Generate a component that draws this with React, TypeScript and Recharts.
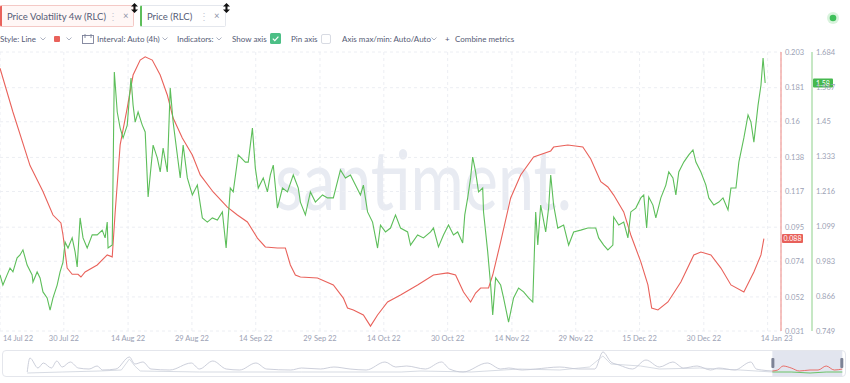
import React from 'react';
import { LineChart, Line, XAxis, YAxis, CartesianGrid, ReferenceLine, ReferenceArea } from 'recharts';

const RED = '#e9625b';
const GREEN = '#5dbe5a';
const FONT = 'Lato, "Open Sans", sans-serif';
const TEXT = '#555b75';
const AXIS_TEXT = '#9ba1b4';
// axis ids: the first one sits next to the plot
const VOL_AXIS = 'axis1Vol';
const PRICE_AXIS = 'axis2Price';

// x axis: days since 14 Jul 22
const xTickDays = [0, 15.3, 30.7, 46, 61.3, 76.7, 92, 107.3, 122.7, 138, 153.3, 168.7, 184];
const xTickLabels = ['14 Jul 22', '30 Jul 22', '14 Aug 22', '29 Aug 22', '14 Sep 22', '29 Sep 22', '14 Oct 22', '30 Oct 22', '14 Nov 22', '29 Nov 22', '15 Dec 22', '30 Dec 22', '14 Jan 23'];

const volTicks = [0.031, 0.052, 0.074, 0.095, 0.117, 0.138, 0.16, 0.181, 0.203];
const priceTicks = [0.749, 0.866, 0.983, 1.099, 1.216, 1.333, 1.45, 1.567, 1.684];

// Price Volatility 4w (RLC)
const volDays = [
  0, 3.1, 7.2, 10.3, 12.7, 14.6, 15.1, 16.1, 17.3, 18.7,
  19.4, 20.4, 23.3, 25.7, 26.9, 27.6, 28.8, 30.5, 31.9, 33.6,
  34.8, 36.5, 38.4, 40.1, 41.5, 43.7, 46.1, 48, 51.1, 54.5,
  56.9, 59.3, 61.7, 63.6, 66.5, 68.4, 69.6, 70.8, 72, 76.1,
  79.9, 82.3, 83.3, 84.7, 87.1, 88.8, 90.5, 92.9, 96, 100.1,
  103.9, 107.3, 109.2, 111.1, 112.8, 114, 115.2, 117.1, 118.1, 120,
  122.4, 124.8, 127.9, 132, 132.7, 136.1, 139.7, 141.6, 144, 145.7,
  147.1, 149.5, 151.2, 153.6, 155.3, 156.2, 157.7, 160.1, 163.2, 166.3,
  168, 170.4, 172.8, 175.2, 178.3, 180.7, 182.4, 183.1,
];
const volValues = [
  0.193, 0.166, 0.133, 0.117, 0.1025, 0.0976, 0.0902, 0.0698, 0.066, 0.066,
  0.0643, 0.0674, 0.0717, 0.0779, 0.0767, 0.104, 0.1457, 0.1685, 0.1888, 0.198,
  0.2, 0.198, 0.1888, 0.1765, 0.1623, 0.15, 0.1395, 0.1272, 0.1167, 0.1074,
  0.1025, 0.0982, 0.0883, 0.0828, 0.0822, 0.0822, 0.0717, 0.0655, 0.0643, 0.0637,
  0.0594, 0.0513, 0.0452, 0.044, 0.0409, 0.034, 0.0409, 0.0489, 0.0532, 0.0594,
  0.0655, 0.0668, 0.0655, 0.055, 0.0489, 0.0544, 0.0575, 0.0575, 0.0655, 0.0859,
  0.113, 0.1272, 0.1383, 0.142, 0.1444, 0.1457, 0.1445, 0.137, 0.123, 0.1198,
  0.1148, 0.1044, 0.0902, 0.0736, 0.0594, 0.0452, 0.044, 0.0489, 0.0612, 0.0779,
  0.0797, 0.0779, 0.0698, 0.0594, 0.055, 0.0674, 0.0779, 0.088,
];

// Price (RLC)
const priceDays = [
  0, 0.7, 1.7, 2.4, 3.1, 4.1, 4.8, 5.5, 6.5, 7.7,
  7.9, 8.9, 9.6, 10.3, 11.3, 12, 12.7, 13.7, 14.4, 15.1,
  15.6, 16.3, 17.3, 18, 18.5, 19.2, 19.9, 20.9, 22.1, 23.3,
  24.5, 25.2, 25.7, 25.9, 26.9, 27.4, 28.1, 28.8, 29.5, 30.5,
  31, 31.4, 31.9, 32.4, 33.1, 34.1, 34.8, 35.5, 36.7, 37.7,
  38.4, 39.1, 40.1, 40.8, 41.5, 42.5, 43.2, 43.9, 44.9, 46.1,
  47.3, 48.5, 49.7, 50.9, 52.1, 53.3, 54.2, 55.2, 55.9, 57.1,
  58.8, 59.5, 60.5, 61.2, 61.9, 63.1, 64.1, 64.8, 65.5, 66.5,
  67.7, 68.9, 70.3, 71.5, 72, 73.2, 74.4, 75.6, 77.3, 78.5,
  79.9, 81.6, 82.8, 84, 85.2, 86.4, 87.1, 88.1, 89.3, 90.5,
  91.2, 92.4, 93.6, 94.8, 96, 97.7, 98.4, 100.1, 101.5, 103.2,
  103.9, 105.1, 106.3, 107.5, 108.7, 109.7, 110.9, 111.4, 112.1, 112.8,
  113.3, 114, 114.7, 115.7, 115.9, 116.9, 117.6, 118.1, 118.8, 120,
  120.7, 121.9, 123.1, 124.3, 125.5, 126.7, 127.7, 128.4, 128.9, 129.6,
  130.8, 131.5, 132, 132.7, 133.7, 135.1, 136.3, 137.5, 139.2, 140.9,
  142.8, 143.5, 144.7, 145.7, 146.9, 147.1, 148.3, 149.5, 150.5, 151.2,
  152.4, 153.6, 154.3, 155, 155.5, 156.5, 157.2, 158.4, 159.6, 160.3,
  161.3, 162, 162.7, 163.9, 165.1, 166.1, 166.8, 168, 169.2, 169.9,
  171.1, 172.3, 173.3, 174.5, 175.2, 176.4, 177.1, 178.3, 179.3, 180,
  180.7, 181.7, 182.4, 182.9, 183.4,
];
const priceValues = [
  0.937, 0.903, 0.937, 0.96, 0.947, 0.994, 1.004, 1.021, 0.97, 0.937,
  0.913, 0.947, 0.927, 0.88, 0.86, 0.819, 0.86, 0.903, 0.947, 0.98,
  1.047, 1.027, 1.061, 1.014, 0.964, 1.128, 1.061, 1.027, 1.071, 1.071,
  1.087, 1.061, 1.114, 1.027, 1.037, 1.617, 1.483, 1.429, 1.396, 1.439,
  1.53, 1.597, 1.506, 1.449, 1.483, 1.439, 1.416, 1.198, 1.372, 1.329,
  1.282, 1.362, 1.282, 1.563, 1.449, 1.339, 1.262, 1.372, 1.262, 1.205,
  1.238, 1.128, 1.114, 1.128, 1.121, 1.148, 1.027, 1.228, 1.215, 1.339,
  1.315, 1.315, 1.429, 1.295, 1.228, 1.262, 1.215, 1.272, 1.305, 1.161,
  1.228, 1.215, 1.272, 1.228, 1.181, 1.138, 1.215, 1.181, 1.205, 1.195,
  1.195, 1.289, 1.262, 1.272, 1.238, 1.205, 1.238, 1.148, 1.114, 1.027,
  1.104, 1.081, 1.094, 1.138, 1.094, 1.081, 1.037, 1.071, 1.061, 1.081,
  1.094, 1.031, 1.071, 1.104, 1.071, 1.081, 1.044, 1.138, 1.195, 1.262,
  1.332, 1.282, 1.215, 1.228, 1.148, 1.014, 0.903, 0.803, 0.927, 0.903,
  0.86, 0.779, 0.86, 0.893, 0.88, 0.86, 0.846, 1.148, 1.037, 1.171,
  1.081, 1.161, 1.272, 1.171, 1.094, 1.104, 1.037, 1.081, 1.087, 1.094,
  1.094, 1.061, 1.037, 1.021, 1.037, 1.131, 1.104, 1.114, 1.061, 1.148,
  1.161, 1.195, 1.205, 1.094, 1.198, 1.171, 1.128, 1.195, 1.238, 1.282,
  1.262, 1.205, 1.282, 1.315, 1.339, 1.356, 1.315, 1.282, 1.238, 1.195,
  1.171, 1.181, 1.195, 1.155, 1.228, 1.228, 1.315, 1.396, 1.473, 1.449,
  1.382, 1.506, 1.573, 1.664, 1.58,
];

// navigator (weeks of full history, relative height)
const navVolWeeks = [9, 10, 13, 15, 18, 20, 22, 25, 28, 32, 35, 37, 42, 47, 49, 52, 55, 62, 70, 73, 78, 83, 88, 94, 98, 107, 111, 118, 123, 129, 135, 142, 146, 150, 157, 163, 166, 171, 180, 185, 188, 193, 198, 207, 214, 220, 223, 226, 229, 234, 239, 244, 249, 253, 258, 263, 266, 272, 278, 280, 282, 286];
const navVolValues = [4, 18, 8, 13, 8, 15, 9, 14, 8, 7, 10, 6, 7, 19, 12, 14, 7, 6, 13, 7, 15, 7, 6, 13, 7, 6, 8, 7, 9, 7, 6, 14, 9, 10, 7, 14, 7, 4, 13, 7, 8, 6, 7, 9, 7, 7, 24, 14, 11, 7, 16, 9, 14, 8, 10, 6, 8, 6, 14, 7, 6, 5];
const navPriceWeeks = [9, 22, 36, 44, 47, 49, 51, 73, 111, 148, 155, 174, 192, 207, 218, 223, 226, 237, 244, 259, 274, 286];
const navPriceValues = [3, 4, 5, 6, 17, 10, 5, 4, 4, 4, 5, 4, 7, 6, 9, 20, 12, 10, 7, 8, 6, 4];
const navSelVolWeeks = [286, 288, 290, 293, 296, 300, 303, 306, 309, 312];
const navSelVolValues = [5, 6, 10, 8, 5, 6, 6, 10, 6, 7];
const navSelPriceWeeks = [286, 293, 300, 306, 312];
const navSelPriceValues = [4, 4, 3, 4, 4];

const volData = volDays.map((d, i) => ({ day: d, v: volValues[i] }));
const priceData = priceDays.map((d, i) => ({ day: d, v: priceValues[i] }));
const toNav = (w: number[], v: number[]) => w.map((x, i) => ({ w: x, v: v[i] }));

const lastVol = volValues[volValues.length - 1];
const lastPrice = priceValues[priceValues.length - 1];

function XTick(props: any) {
  const { x, y, payload } = props;
  const i = xTickDays.indexOf(payload.value);
  const last = i === xTickDays.length - 1;
  const anchor = i === 0 ? 'start' : last ? 'end' : 'middle';
  const dx = i === 0 ? 3 : last ? 25 : 0;
  return (
    <text x={x + dx} y={y} dy={8} textAnchor={anchor} fill={AXIS_TEXT} fontSize={7.5} fontFamily={FONT}>
      {xTickLabels[i]}
    </text>
  );
}

const badge = (text: string, color: string, offset: number, w: number) => (props: any) => {
  const { viewBox } = props;
  const x = viewBox.x + viewBox.width + offset;
  const y = viewBox.y;
  return (
    <g>
      <rect x={x} y={y - 4.5} width={w} height={9} rx={1} fill={color} />
      <text x={x + w / 2} y={y} dy={2.7} textAnchor="middle" fill="#fff" fontSize={7} fontFamily={FONT}>
        {text}
      </text>
    </g>
  );
};

function Chevron({ x }: { x: number }) {
  return (
    <svg style={{ position: 'absolute', left: x, top: 37 }} width={6} height={4}>
      <polyline points="0.5,0.5 3,3 5.5,0.5" fill="none" stroke="#a4a9ba" strokeWidth={0.9} />
    </svg>
  );
}

function DragIcon({ x }: { x: number }) {
  return (
    <svg style={{ position: 'absolute', left: x, top: 3 }} width={7} height={10}>
      <path d="M3.5 0 L7 3.5 L4.5 3.5 L4.5 6.5 L7 6.5 L3.5 10 L0 6.5 L2.5 6.5 L2.5 3.5 L0 3.5 Z" fill="#111" />
    </svg>
  );
}

function Tab({ left, width, label, color, border, bg, dotsX, closeX }: any) {
  return (
    <div
      style={{
        position: 'absolute', left, top: 5, width, height: 22, boxSizing: 'border-box',
        border: `1px solid ${border}`, borderLeft: `2px solid ${color}`, borderRadius: 2, background: bg,
      }}
    >
      <span style={{ position: 'absolute', left: 5, top: 5, fontSize: 9.5, color: TEXT, whiteSpace: 'nowrap' }}>{label}</span>
      <span style={{ position: 'absolute', left: dotsX - left - 3, top: 4, fontSize: 10, color: '#c5c9d4' }}>⋮</span>
      <span style={{ position: 'absolute', left: closeX - left - 3, top: 4, fontSize: 9.5, color: '#8d92a6' }}>×</span>
    </div>
  );
}

const tbText = (left: number, text: string) => (
  <span style={{ position: 'absolute', left, top: 34, fontSize: 8, color: TEXT, whiteSpace: 'nowrap' }}>{text}</span>
);

export default function App() {
  return (
    <div style={{ position: 'absolute', left: 0, top: 0, width: 850, height: 383, background: '#fff', fontFamily: FONT, overflow: 'hidden' }}>
      {/* header tabs */}
      <Tab left={0} width={134} label="Price Volatility 4w (RLC)" color={RED} border="#f4c9c6" bg="#fff7f6" dotsX={109} closeX={124} />
      <DragIcon x={131} />
      <Tab left={140} width={86} label="Price (RLC)" color={GREEN} border="#e4e7ed" bg="#fff" dotsX={200} closeX={215} />
      <DragIcon x={223} />
      <svg style={{ position: 'absolute', left: 826, top: 11 }} width={14} height={14}>
        <circle cx={7} cy={7} r={6} fill="rgba(80,200,100,0.22)" />
        <circle cx={7} cy={7} r={3.3} fill="#3fbf5a" />
      </svg>

      {/* toolbar */}
      {tbText(0, 'Style: Line')}
      <Chevron x={40} />
      <div style={{ position: 'absolute', left: 54, top: 36, width: 6, height: 6, background: RED, borderRadius: 1 }} />
      <Chevron x={66} />
      <svg style={{ position: 'absolute', left: 82, top: 34 }} width={12} height={10}>
        <rect x={0.5} y={1.5} width={11} height={8} fill="none" stroke="#7c8199" strokeWidth={0.9} />
        <line x1={3} y1={0} x2={3} y2={4} stroke="#7c8199" strokeWidth={0.9} />
        <line x1={9} y1={0} x2={9} y2={4} stroke="#7c8199" strokeWidth={0.9} />
      </svg>
      {tbText(97, 'Interval: Auto (4h)')}
      <Chevron x={162} />
      {tbText(177, 'Indicators:')}
      <Chevron x={216} />
      {tbText(232, 'Show axis')}
      <svg style={{ position: 'absolute', left: 270, top: 33 }} width={11} height={11}>
        <rect x={0} y={0} width={11} height={11} rx={1.5} fill="#4cbf86" />
        <polyline points="2.8,5.6 4.8,7.6 8.4,3.6" fill="none" stroke="#fff" strokeWidth={1.2} />
      </svg>
      {tbText(291, 'Pin axis')}
      <div style={{ position: 'absolute', left: 321, top: 34, width: 10, height: 10, boxSizing: 'border-box', border: '1px solid #d8dbe3', borderRadius: 2 }} />
      {tbText(342, 'Axis max/min: Auto/Auto')}
      <Chevron x={431} />
      {tbText(445, '+')}
      {tbText(455, 'Combine metrics')}

      {/* watermark */}
      <svg style={{ position: 'absolute', left: 0, top: 0 }} width={850} height={383}>
        <text x={275} y={210} fontSize={84} fill="#e8ebf2" fontFamily={FONT} textLength={297} lengthAdjust="spacingAndGlyphs">
          santiment.
        </text>
      </svg>

      {/* main chart */}
      <div style={{ position: 'absolute', left: 0, top: 0 }}>
        <LineChart width={850} height={352} margin={{ top: 52, right: 0, bottom: 0, left: 0 }}>
          <CartesianGrid yAxisId={VOL_AXIS} strokeDasharray="3 3" stroke="#eceef3" />
          <XAxis
            dataKey="day"
            type="number"
            domain={[0, 187.2]}
            ticks={xTickDays}
            interval={0}
            allowDataOverflow
            axisLine={false}
            tickLine={false}
            tickSize={0}
            tickMargin={2}
            height={21}
            tick={<XTick />}
          />
          <YAxis
            yAxisId={VOL_AXIS}
            orientation="right"
            domain={[0.031, 0.203]}
            ticks={volTicks}
            interval={0}
            width={31}
            axisLine={{ stroke: '#ef8580' }}
            tickLine={false}
            tickSize={0}
            tickMargin={4}
            tickFormatter={(v: number) => String(v)}
            tick={{ fill: AXIS_TEXT, fontSize: 7.5, fontFamily: FONT }}
          />
          <YAxis
            yAxisId={PRICE_AXIS}
            orientation="right"
            domain={[0.749, 1.684]}
            ticks={priceTicks}
            interval={0}
            width={38}
            axisLine={{ stroke: '#8dd08a' }}
            tickLine={false}
            tickSize={0}
            tickMargin={4}
            tickFormatter={(v: number) => String(v)}
            tick={{ fill: AXIS_TEXT, fontSize: 7.5, fontFamily: FONT }}
          />
          <Line
            yAxisId={VOL_AXIS}
            data={volData}
            dataKey="v"
            type="linear"
            stroke={RED}
            strokeWidth={1.1}
            dot={false}
            isAnimationActive={false}
          />
          <Line
            yAxisId={PRICE_AXIS}
            data={priceData}
            dataKey="v"
            type="linear"
            stroke={GREEN}
            strokeWidth={1.1}
            dot={false}
            isAnimationActive={false}
          />
          <ReferenceLine yAxisId={VOL_AXIS} y={lastVol} stroke="none" label={badge(lastVol.toFixed(3), '#e8605a', 1, 21)} />
          <ReferenceLine yAxisId={PRICE_AXIS} y={lastPrice} stroke="none" label={badge(lastPrice.toFixed(2), '#45b84f', 32, 20)} />
        </LineChart>
      </div>

      {/* navigator */}
      <div
        style={{
          position: 'absolute', left: 2, top: 350, width: 844, height: 27, boxSizing: 'border-box',
          border: '1px solid #e4e6ec', borderRadius: 4, overflow: 'hidden',
        }}
      >
        <LineChart width={842} height={25} margin={{ top: 0, right: 0, bottom: 0, left: 0 }}>
          <XAxis dataKey="w" type="number" domain={[0, 313]} hide />
          <YAxis domain={[0, 25]} hide />
          <ReferenceArea
            x1={286}
            x2={312}
            ifOverflow="extendDomain"
            shape={(p: any) => (
              <g>
                <rect x={p.x} y={p.y} width={p.width} height={p.height} fill="#e2e5ef" />
                <rect x={p.x - 1} y={p.y + 7} width={3} height={10} rx={1} fill="#7d8396" />
                <rect x={p.x + p.width - 2} y={p.y + 7} width={3} height={10} rx={1} fill="#7d8396" />
              </g>
            )}
          />
          <Line data={toNav(navPriceWeeks, navPriceValues)} dataKey="v" stroke="#d3d7e0" strokeWidth={0.9} dot={false} isAnimationActive={false} />
          <Line data={toNav(navVolWeeks, navVolValues)} dataKey="v" type="monotone" stroke="#c6cad6" strokeWidth={0.9} dot={false} isAnimationActive={false} />
          <Line data={toNav(navSelPriceWeeks, navSelPriceValues)} dataKey="v" stroke={GREEN} strokeWidth={0.9} dot={false} isAnimationActive={false} />
          <Line data={toNav(navSelVolWeeks, navSelVolValues)} dataKey="v" type="monotone" stroke={RED} strokeWidth={0.9} dot={false} isAnimationActive={false} />
        </LineChart>
      </div>
    </div>
  );
}
